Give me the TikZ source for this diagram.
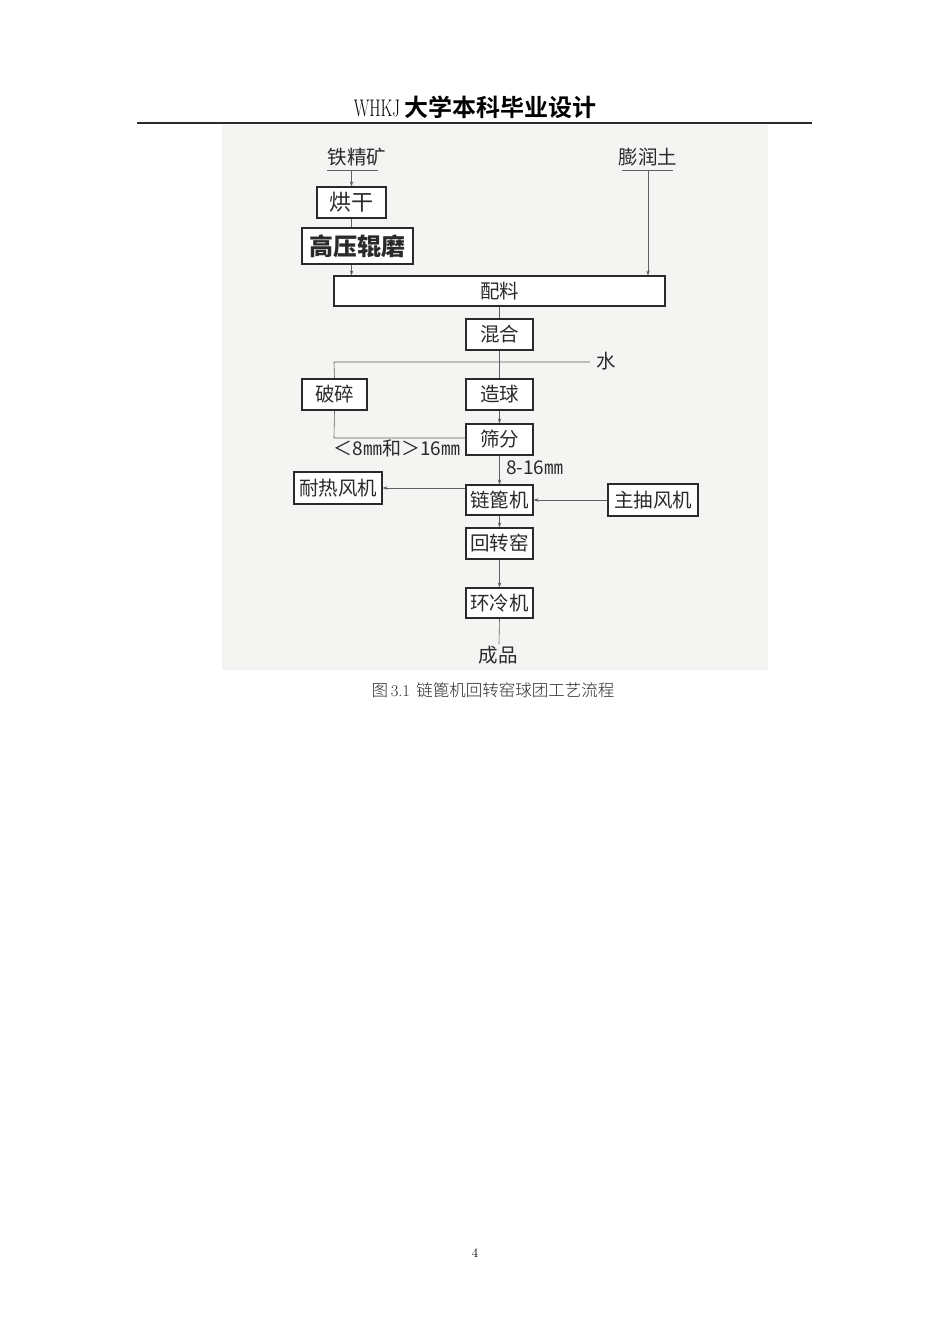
\documentclass[tikz,border=0pt]{standalone}
\usepackage{fontspec}
\newfontfamily\cjk{Noto Sans CJK SC}
\newfontfamily\cjkb{Noto Sans CJK SC}[BoldFont={Noto Sans CJK SC Bold}]
\newfontfamily\cjkl{Noto Sans CJK SC Light}
\usetikzlibrary{arrows.meta}
\definecolor{bgpic}{HTML}{F4F4F2}
\definecolor{ink}{HTML}{2A2A2A}
\begin{document}
\begin{tikzpicture}[x=1pt,y=-1pt,
  box/.style={draw=ink,line width=1.1pt,fill=white,inner sep=0pt,font=\cjk\fontsize{19.5}{19.5}\selectfont,text=ink},
  lab/.style={inner sep=0pt,font=\cjk\fontsize{19.5}{19.5}\selectfont,text=ink},
  ln/.style={draw=ink!75,line width=0.6pt},
  arr/.style={ln,-{Stealth[length=5pt,width=3.5pt]}}]
\useasboundingbox (0,0) rectangle (950,1344);
\fill[white] (0,0) rectangle (950,1344);
% header
\node (hdr) at (475,107) {\fontsize{24}{24}\selectfont\scalebox{0.68}[1]{WHKJ}\,{\cjkb\bfseries\fontsize{24}{24}\selectfont 大学本科毕业设计}};
\draw[line width=1.5pt,ink] (137,123) -- (812,123);
% picture background
\fill[bgpic] (222,125) rectangle (768,670);
% nodes
\node[lab] (tjk) at (357,157) {铁精矿};
\coordinate (tjkL) at (327,170); \coordinate (tjkR) at (378,170); \coordinate (tjkM) at (351.5,170);
\draw[ln] (tjkL) -- (tjkR);
\node[lab] (prt) at (648,157) {膨润土};
\coordinate (prtL) at (622,170); \coordinate (prtR) at (673,170); \coordinate (prtM) at (648,170);
\draw[ln] (prtL) -- (prtR);
\node[box,minimum width=69pt,minimum height=31pt,font=\cjk\fontsize{22}{22}\selectfont] (hg) at (351.5,202.5) {烘干};
\node[box,line width=2pt,minimum width=111pt,minimum height=36pt,font=\cjk\fontsize{24}{24}\selectfont\bfseries] (gy) at (357.5,246) {高压辊磨};
\node[box,minimum width=331pt,minimum height=30pt] (pl) at (499.5,291) {配料};
\node[box,minimum width=67pt,minimum height=31pt] (hh) at (499.5,334.5) {混合};
\node[lab] (water) at (606,361) {水};
\node[box,minimum width=65pt,minimum height=31pt] (ps) at (334.5,394.5) {破碎};
\node[box,minimum width=67pt,minimum height=31pt] (zq) at (499.5,394.5) {造球};
\node[box,minimum width=67pt,minimum height=31pt] (sf) at (499.5,439.5) {筛分};
\node[lab,font=\cjk\fontsize{19}{19}\selectfont] (rej) at (397,448) {＜8㎜和＞16㎜};
\node[lab,font=\cjk\fontsize{19}{19}\selectfont,anchor=west] (ok) at (506,468) {8-16㎜};
\node[box,minimum width=88pt,minimum height=32pt] (nr) at (338,488) {耐热风机};
\node[box,minimum width=67pt,minimum height=30pt] (lb) at (499.5,500) {链篦机};
\node[box,minimum width=90pt,minimum height=32pt] (zc) at (653,500) {主抽风机};
\node[box,minimum width=67pt,minimum height=31pt] (hz) at (499.5,543.5) {回转窑};
\node[box,minimum width=67pt,minimum height=30pt] (hl) at (499.5,603) {环冷机};
\node[lab] (cp) at (498,655) {成品};
% connectors
\draw[arr] (tjkM) -- (hg.north);
\draw[ln] (hg.south) -- (hg.south |- gy.north);
\draw[arr] (gy.south -| hg.south) -- (hg.south |- pl.north);
\draw[arr] (prtM) -- (prtM |- pl.north);
\draw[ln] (pl.south) -- (hh.north);
\coordinate (wL) at (334,362); \coordinate (wR) at (590,362);
\draw[ln] (wR) -- (wL) -- (ps.north);
\draw[ln] (hh.south) -- (zq.north);
\draw[arr] (zq.south) -- (sf.north);
\coordinate (rejC) at (334,438);
\draw[ln] (ps.south) -- (rejC) -- (sf.west |- rejC);
\draw[arr] (sf.south) -- (lb.north);
\draw[arr] (lb.west |- nr.east) -- (nr.east);
\draw[arr] (zc.west) -- (lb.east);
\draw[arr] (lb.south) -- (hz.north);
\draw[arr] (hz.south) -- (hl.north);
\coordinate (cpT) at (499,644);
\draw[ln] (hl.south) -- (cpT);
% caption and page number
\node[inner sep=0pt,font=\cjkl\fontsize{16.5}{16.5}\selectfont,text=ink] (cap) at (493,690) {图\,{\fontspec{Latin Modern Roman}3.1}\, 链篦机回转窑球团工艺流程};
\node[inner sep=0pt,font=\fontsize{13}{13}\selectfont] (pg) at (475,1253) {4};
\end{tikzpicture}
\end{document}
